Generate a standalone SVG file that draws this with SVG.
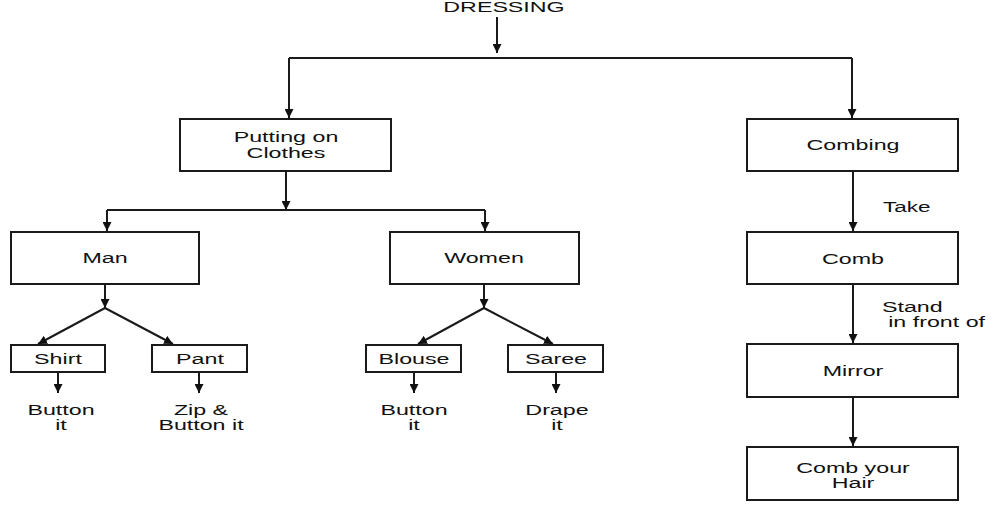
<svg xmlns="http://www.w3.org/2000/svg" width="999" height="508" viewBox="0 0 999 508">
<style>
.box{fill:#fff;stroke:#1a1a1a;stroke-width:2}
.ln{fill:none;stroke:#1a1a1a;stroke-width:2}
.arr{marker-end:url(#ah)}
text{font-family:"Liberation Sans",Arial,sans-serif;font-size:15px;fill:#111}
.c{text-anchor:middle}
.s{text-anchor:start}
</style>
<defs>
<marker id="ah" markerUnits="userSpaceOnUse" markerWidth="9" markerHeight="9" refX="9" refY="4.5" orient="auto" viewBox="0 0 9 9">
<path d="M0,0 L9,4.5 L0,9 z" fill="#111"/>
</marker>
</defs>
<rect width="999" height="508" fill="#fff"/>
<g id="connectors">
<path class="ln arr" d="M497,17 L497,53"/>
<path class="ln" d="M289,58 L852,58"/>
<path class="ln arr" d="M289,58 L289,118"/>
<path class="ln arr" d="M852,58 L852,118"/>
<path class="ln arr" d="M286,171 L286,210"/>
<path class="ln" d="M107,210 L485,210"/>
<path class="ln arr" d="M107,210 L107,231"/>
<path class="ln arr" d="M485,210 L485,231"/>
<path class="ln arr" d="M105,284 L105,308"/>
<path class="ln arr" d="M105,308 L38,344"/>
<path class="ln arr" d="M105,308 L173,344"/>
<path class="ln arr" d="M484,284 L484,308"/>
<path class="ln arr" d="M484,308 L418,344"/>
<path class="ln arr" d="M484,308 L553,344"/>
<path class="ln arr" d="M58,372 L58,393"/>
<path class="ln arr" d="M199,372 L199,393"/>
<path class="ln arr" d="M414,372 L414,393"/>
<path class="ln arr" d="M556,372 L556,393"/>
<path class="ln arr" d="M853,171 L853,231"/>
<path class="ln arr" d="M853,284 L853,343"/>
<path class="ln arr" d="M853,397 L853,446"/>
</g>
<g id="dressing">
<text class="c" transform="matrix(1.55 0 0 1 504 12)">DRESSING</text>
</g>
<g id="putting">
<rect class="box" x="180" y="119" width="211" height="52"/>
<text class="c" transform="matrix(1.55 0 0 1 286 142)"><tspan x="0" y="0">Putting on</tspan><tspan x="0" y="16">Clothes</tspan></text>
</g>
<g id="man">
<rect class="box" x="11" y="232" width="188" height="52"/>
<text class="c" transform="matrix(1.55 0 0 1 105 263)">Man</text>
</g>
<g id="women">
<rect class="box" x="390" y="232" width="189" height="52"/>
<text class="c" transform="matrix(1.55 0 0 1 484 263)">Women</text>
</g>
<g id="shirt">
<rect class="box" x="11" y="345" width="94" height="27"/>
<text class="c" transform="matrix(1.55 0 0 1 58 364)">Shirt</text>
</g>
<g id="pant">
<rect class="box" x="152" y="345" width="95" height="27"/>
<text class="c" transform="matrix(1.55 0 0 1 200 364)">Pant</text>
</g>
<g id="blouse">
<rect class="box" x="366" y="345" width="95" height="27"/>
<text class="c" transform="matrix(1.55 0 0 1 414 364)">Blouse</text>
</g>
<g id="saree">
<rect class="box" x="508" y="345" width="95" height="27"/>
<text class="c" transform="matrix(1.55 0 0 1 556 364)">Saree</text>
</g>
<g id="shirt-note">
<text class="c" transform="matrix(1.55 0 0 1 61 415)"><tspan x="0" y="0">Button</tspan><tspan x="0" y="15">it</tspan></text>
</g>
<g id="pant-note">
<text class="c" transform="matrix(1.55 0 0 1 201 415)"><tspan x="0" y="0">Zip &amp;</tspan><tspan x="0" y="15">Button it</tspan></text>
</g>
<g id="blouse-note">
<text class="c" transform="matrix(1.55 0 0 1 414 415)"><tspan x="0" y="0">Button</tspan><tspan x="0" y="15">it</tspan></text>
</g>
<g id="saree-note">
<text class="c" transform="matrix(1.55 0 0 1 557 415)"><tspan x="0" y="0">Drape</tspan><tspan x="0" y="15">it</tspan></text>
</g>
<g id="combing">
<rect class="box" x="747" y="119" width="211" height="52"/>
<text class="c" transform="matrix(1.55 0 0 1 853 150)">Combing</text>
</g>
<g id="take-label">
<text class="s" transform="matrix(1.5 0 0 1 883 212)">Take</text>
</g>
<g id="comb">
<rect class="box" x="747" y="232" width="211" height="52"/>
<text class="c" transform="matrix(1.55 0 0 1 853 264)">Comb</text>
</g>
<g id="stand-label">
<text class="s" transform="matrix(1.55 0 0 1 882 312)"><tspan x="0" y="0">Stand</tspan><tspan x="4" y="15">in front of</tspan></text>
</g>
<g id="mirror">
<rect class="box" x="747" y="344" width="211" height="53"/>
<text class="c" transform="matrix(1.55 0 0 1 853 376)">Mirror</text>
</g>
<g id="combhair">
<rect class="box" x="747" y="447" width="211" height="53"/>
<text class="c" transform="matrix(1.55 0 0 1 853 473)"><tspan x="0" y="0">Comb your</tspan><tspan x="0" y="15">Hair</tspan></text>
</g>
</svg>
